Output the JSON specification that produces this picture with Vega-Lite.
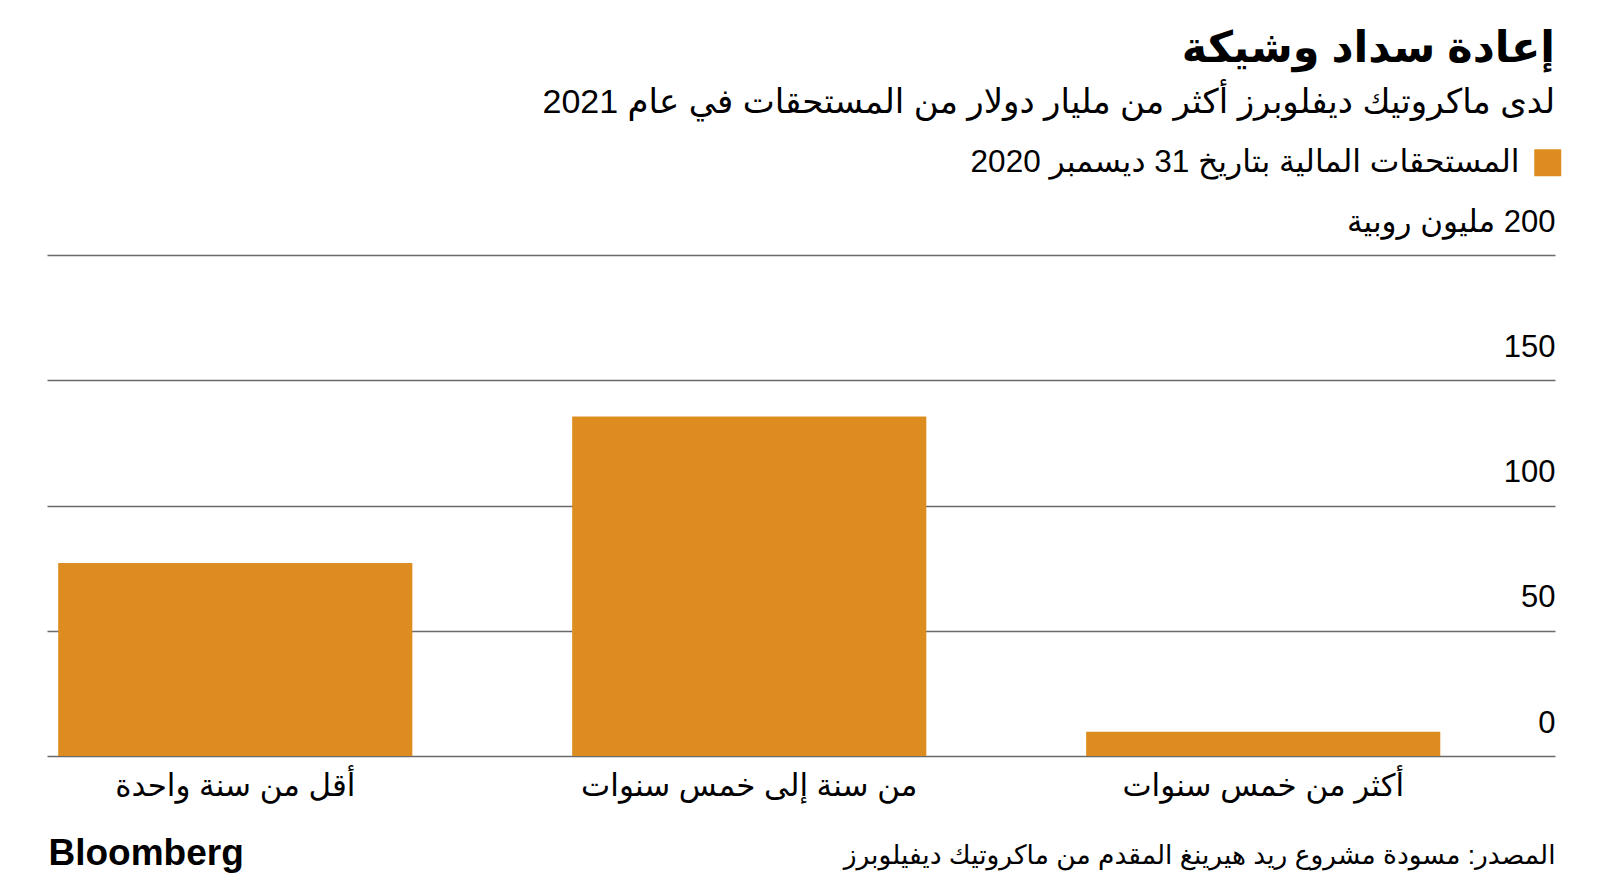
{
  "$schema": "https://vega.github.io/schema/vega-lite/v6.json",
  "width": 1508,
  "height": 501,
  "autosize": {"type": "none"},
  "padding": {"left": 47, "top": 255, "right": 45, "bottom": 139},
  "background": "white",
  "title": {
    "text": "إعادة سداد وشيكة",
    "subtitle": "لدى ماكروتيك ديفلوبرز أكثر من مليار دولار من المستحقات في عام 2021",
    "anchor": "end",
    "frame": "group",
    "orient": "top",
    "offset": 27,
    "font": "Liberation Sans, DejaVu Sans",
    "fontSize": 43,
    "fontWeight": "bold",
    "color": "#000000",
    "subtitleFont": "Liberation Sans, DejaVu Sans",
    "subtitleFontSize": 34,
    "subtitleColor": "#000000",
    "subtitlePadding": 15
  },
  "data": {
    "values": [
      {"period": "أقل من سنة واحدة", "amount": 77, "series": "المستحقات المالية بتاريخ 31 ديسمبر 2020"},
      {"period": "من سنة إلى خمس سنوات", "amount": 135.5, "series": "المستحقات المالية بتاريخ 31 ديسمبر 2020"},
      {"period": "أكثر من خمس سنوات", "amount": 9.7, "series": "المستحقات المالية بتاريخ 31 ديسمبر 2020"}
    ]
  },
  "mark": {"type": "bar", "color": "#DD8D1F"},
  "encoding": {
    "x": {
      "field": "period",
      "type": "nominal",
      "sort": null,
      "scale": {"paddingInner": 0.311, "paddingOuter": 0.1225, "align": 0.089},
      "axis": {
        "title": "المصدر: مسودة مشروع ريد هيرينغ المقدم من ماكروتيك ديفيلوبرز",
        "titleX": 1508,
        "titleY": 107,
        "titleAlign": "right",
        "titleBaseline": "alphabetic",
        "titleFont": "Liberation Sans, DejaVu Sans",
        "titleFontSize": 26.5,
        "titleFontWeight": "normal",
        "titleColor": "#000000",
        "labelAngle": 0,
        "labelFont": "Liberation Sans, DejaVu Sans",
        "labelFontSize": 31,
        "labelColor": "#000000",
        "labelBaseline": "alphabetic",
        "labelPadding": 39,
        "labelLimit": 600,
        "ticks": false,
        "tickSize": 0,
        "domain": false,
        "grid": false
      }
    },
    "y": {
      "field": "amount",
      "type": "quantitative",
      "scale": {"domain": [0, 200], "nice": false},
      "axis": {
        "orient": "right",
        "values": [0, 50, 100, 150, 200],
        "labelExpr": "datum.value == 200 ? '\u200f200 مليون روبية' : datum.label",
        "title": "Bloomberg",
        "titleX": -1507,
        "titleY": 609,
        "titleAngle": 0,
        "titleAlign": "left",
        "titleBaseline": "alphabetic",
        "titleFont": "Liberation Sans",
        "titleFontSize": 37,
        "titleFontWeight": "bold",
        "titleColor": "#000000",
        "ticks": false,
        "tickSize": 0,
        "domain": false,
        "grid": true,
        "gridColor": "#6a6a6a",
        "gridWidth": 1.3,
        "labelAlign": "right",
        "labelBaseline": "alphabetic",
        "labelPadding": 0,
        "labelOffset": -24,
        "labelFont": "Liberation Sans, DejaVu Sans",
        "labelFontSize": 31,
        "labelColor": "#000000",
        "labelLimit": 600
      }
    },
    "color": {
      "field": "series",
      "type": "nominal",
      "scale": {"range": ["#DD8D1F"]},
      "legend": {
        "orient": "none",
        "legendX": 1485,
        "legendY": -108,
        "title": null,
        "symbolType": "square",
        "symbolSize": 729,
        "symbolStrokeWidth": 0,
        "symbolOpacity": 1,
        "labelAlign": "right",
        "labelOffset": -44,
        "labelFont": "Liberation Sans, DejaVu Sans",
        "labelFontSize": 31.5,
        "labelColor": "#000000",
        "labelLimit": 1000,
        "padding": 0
      }
    }
  },
  "config": {"view": {"stroke": null}}
}
